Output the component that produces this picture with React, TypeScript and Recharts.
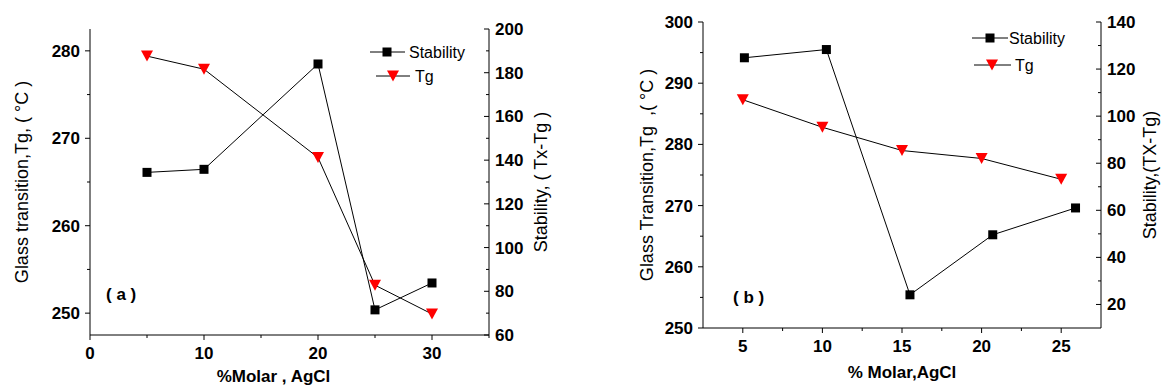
import React from 'react';
import { LineChart, Line, XAxis, YAxis, Legend } from 'recharts';

// ---------- Panel (a) data ----------
const aMolar = [5, 10, 20, 25, 30];
const aStability = [134.4, 135.8, 184.0, 71.5, 83.8];
const aTg = [279.4, 277.9, 267.8, 253.2, 249.9];

// ---------- Panel (b) data ----------
const bStabilityMolar = [5.1, 10.25, 15.5, 20.7, 25.9];
const bStability = [124.8, 128.3, 24.1, 49.6, 61.0];
const bTgMolar = [5, 10, 15, 20, 25];
const bTg = [287.3, 282.8, 279.0, 277.7, 274.3];

// ---------- ticks ----------
const aXMajor = [0, 10, 20, 30];
const aXMinor = [5, 15, 25, 35];
const aLeftMajor = [250, 260, 270, 280];
const aLeftMinor = [255, 265, 275];
const aRightMajor = [60, 80, 100, 120, 140, 160, 180, 200];
const aRightMinor = [70, 90, 110, 130, 150, 170, 190];

const bXMajor = [5, 10, 15, 20, 25];
const bXMinor = [7.5, 12.5, 17.5, 22.5];
const bLeftMajor = [250, 260, 270, 280, 290, 300];
const bLeftMinor = [255, 265, 275, 285, 295];
const bRightMajor = [20, 40, 60, 80, 100, 120, 140];
const bRightMinor = [30, 50, 70, 90, 110, 130];

const FONT = 'Arial, "Liberation Sans", sans-serif';

const toPoints = (xs: number[], ys: number[]) => xs.map((x, i) => ({ x, y: ys[i] }));

const aStabData = toPoints(aMolar, aStability);
const aTgData = toPoints(aMolar, aTg);
const bStabData = toPoints(bStabilityMolar, bStability);
const bTgData = toPoints(bTgMolar, bTg);

const sorted = (a: number[], b: number[]) => [...a, ...b].sort((p, q) => p - q);

type Side = 'left' | 'right' | 'bottom';

function makeTick(side: Side, major: number[], inward: boolean) {
  return (props: any) => {
    const { x, y, payload, index } = props;
    const v = payload.value;
    const isMajor = major.includes(v);
    const len = isMajor ? 5 : 3;
    const textStyle = { fontFamily: FONT, fontSize: 17, fontWeight: 700, fill: '#000' } as const;
    let line: React.ReactNode = null;
    let text: React.ReactNode = null;
    if (side === 'left') {
      const dir = inward ? 1 : -1;
      line = <line x1={x} x2={x + dir * len} y1={y} y2={y} stroke="#000" strokeWidth={1} />;
      if (isMajor) text = <text x={x - 10} y={y + 6} textAnchor="end" style={textStyle}>{v}</text>;
    } else if (side === 'right') {
      const dir = inward ? -1 : 1;
      line = <line x1={x} x2={x + dir * len} y1={y} y2={y} stroke="#000" strokeWidth={1} />;
      if (isMajor) text = <text x={x + 6} y={y + 6} textAnchor="start" style={textStyle}>{v}</text>;
    } else {
      const dir = inward ? -1 : 1;
      line = <line x1={x} x2={x} y1={y} y2={y + dir * len} stroke="#000" strokeWidth={1} />;
      if (isMajor) text = <text x={x} y={y + 24} textAnchor="middle" style={textStyle}>{v}</text>;
    }
    return (
      <g key={`t-${side}-${index}-${v}`}>
        {line}
        {text}
      </g>
    );
  };
}

const squareDot = (props: any) => {
  const { cx, cy, index } = props;
  return <rect key={`sq-${index}`} x={cx - 4.5} y={cy - 4.5} width={9} height={9} fill="#000" />;
};

const triDot = (props: any) => {
  const { cx, cy, index } = props;
  return (
    <path
      key={`tr-${index}`}
      d={`M${cx - 6},${cy - 5.5} L${cx + 6},${cy - 5.5} L${cx},${cy + 5.5} Z`}
      fill="#ff0000"
    />
  );
};

function LegendBox(props: { rows: { y: number; x1: number; x2: number; mx: number; tx: number; label: string; kind: 'sq' | 'tri' }[] }) {
  return (
    <svg width={130} height={56} style={{ overflow: 'visible' }}>
      {props.rows.map((r) => (
        <g key={r.label}>
          <line x1={r.x1} x2={r.x2} y1={r.y} y2={r.y} stroke="#000" strokeWidth={1} />
          {r.kind === 'sq' ? (
            <rect x={r.mx - 4.5} y={r.y - 4.5} width={9} height={9} fill="#000" />
          ) : (
            <path d={`M${r.mx - 6},${r.y - 5.5} L${r.mx + 6},${r.y - 5.5} L${r.mx},${r.y + 5.5} Z`} fill="#ff0000" />
          )}
          <text x={r.tx} y={r.y + 6} style={{ fontFamily: FONT, fontSize: 16, fill: '#000' }}>
            {r.label}
          </text>
        </g>
      ))}
    </svg>
  );
}

const titleStyle = { fontFamily: FONT, fontSize: 18, fill: '#000', textAnchor: 'middle' } as any;
const xTitleStyle = { fontFamily: FONT, fontSize: 17, fontWeight: 700, fill: '#000', textAnchor: 'middle' } as any;

export default function App() {
  return (
    <div style={{ position: 'absolute', left: 0, top: 0, width: 1161, height: 387, background: '#fff' }}>
      {/* Panel (a) */}
      <div style={{ position: 'absolute', left: 0, top: 0 }}>
        <LineChart width={580} height={387} margin={{ top: 29, right: 0, bottom: 0, left: 0 }}>
          <XAxis
            xAxisId="main"
            dataKey="x"
            type="number"
            domain={[0, 35]}
            ticks={sorted(aXMajor, aXMinor)}
            interval={0}
            height={52}
            tickSize={0}
            tickMargin={0}
            tickLine={false}
            axisLine={{ stroke: '#000', strokeWidth: 1 }}
            tick={makeTick('bottom', aXMajor, false)}
            label={{ value: '%Molar , AgCl', position: 'insideBottom', offset: 5, dx: -16, style: xTitleStyle }}
          />
          <XAxis
            xAxisId="top"
            orientation="top"
            type="number"
            domain={[0, 35]}
            height={0}
            tick={false}
            tickLine={false}
            axisLine={{ stroke: '#000', strokeWidth: 1 }}
          />
          <YAxis
            yAxisId="left"
            type="number"
            domain={[247.5, 282.5]}
            ticks={sorted(aLeftMajor, aLeftMinor)}
            interval={0}
            width={90}
            tickSize={0}
            tickMargin={0}
            tickLine={false}
            axisLine={{ stroke: '#000', strokeWidth: 1 }}
            tick={makeTick('left', aLeftMajor, false)}
            label={{ value: 'Glass transition,Tg, ( °C )', angle: -90, position: 'insideLeft', offset: 22, style: titleStyle }}
          />
          <YAxis
            yAxisId="right"
            orientation="right"
            type="number"
            domain={[60, 200]}
            ticks={sorted(aRightMajor, aRightMinor)}
            interval={0}
            width={91}
            tickSize={0}
            tickMargin={0}
            tickLine={false}
            axisLine={{ stroke: '#000', strokeWidth: 1 }}
            tick={makeTick('right', aRightMajor, true)}
            label={{ value: 'Stability, ( Tx-Tg )', angle: -90, position: 'insideRight', offset: 39, style: titleStyle }}
          />
          <Legend
            layout="horizontal"
            align="center"
            verticalAlign="middle"
            wrapperStyle={{ left: 365, top: 40, width: 130, height: 56 }}
            content={() => (
              <LegendBox
                rows={[
                  { y: 12, x1: 5, x2: 40, mx: 22, tx: 44, label: 'Stability', kind: 'sq' },
                  { y: 36, x1: 11, x2: 45, mx: 28, tx: 50, label: 'Tg', kind: 'tri' },
                ]}
              />
            )}
          />
          <Line
            xAxisId="main"
            yAxisId="right"
            data={aStabData}
            dataKey="y"
            name="Stability"
            stroke="#000"
            strokeWidth={1}
            dot={squareDot}
            activeDot={false}
            isAnimationActive={false}
          />
          <Line
            xAxisId="main"
            yAxisId="left"
            data={aTgData}
            dataKey="y"
            name="Tg"
            stroke="#000"
            strokeWidth={1}
            dot={triDot}
            activeDot={false}
            isAnimationActive={false}
          />
        </LineChart>
      </div>

      {/* Panel (b) */}
      <div style={{ position: 'absolute', left: 580, top: 0 }}>
        <LineChart width={581} height={387} margin={{ top: 22, right: 0, bottom: 0, left: 0 }}>
          <XAxis
            xAxisId="main"
            dataKey="x"
            type="number"
            domain={[2.5, 27.5]}
            ticks={sorted(bXMajor, bXMinor)}
            interval={0}
            height={59}
            tickSize={0}
            tickMargin={0}
            tickLine={false}
            axisLine={{ stroke: '#000', strokeWidth: 1 }}
            tick={makeTick('bottom', bXMajor, false)}
            label={{ value: '% Molar,AgCl', position: 'insideBottom', offset: 9, style: xTitleStyle }}
          />
          <XAxis
            xAxisId="top"
            orientation="top"
            type="number"
            domain={[2.5, 27.5]}
            height={0}
            tick={false}
            tickLine={false}
            axisLine={{ stroke: '#000', strokeWidth: 1 }}
          />
          <YAxis
            yAxisId="left"
            type="number"
            domain={[250, 300]}
            ticks={sorted(bLeftMajor, bLeftMinor)}
            interval={0}
            width={123}
            tickSize={0}
            tickMargin={0}
            tickLine={false}
            axisLine={{ stroke: '#000', strokeWidth: 1 }}
            tick={makeTick('left', bLeftMajor, false)}
            label={{ value: 'Glass Transition,Tg\u00A0\u00A0,( °C )', angle: -90, position: 'insideLeft', offset: 67, style: titleStyle }}
          />
          <YAxis
            yAxisId="right"
            orientation="right"
            type="number"
            domain={[10, 140]}
            ticks={sorted(bRightMajor, bRightMinor)}
            interval={0}
            width={60}
            tickSize={0}
            tickMargin={0}
            tickLine={false}
            axisLine={{ stroke: '#000', strokeWidth: 1 }}
            tick={makeTick('right', bRightMajor, true)}
            label={{ value: 'Stability,(TX-Tg)', angle: -90, position: 'insideRight', offset: 11, style: titleStyle }}
          />
          <Legend
            layout="horizontal"
            align="center"
            verticalAlign="middle"
            wrapperStyle={{ left: 385, top: 20, width: 130, height: 56 }}
            content={() => (
              <LegendBox
                rows={[
                  { y: 18, x1: 7, x2: 43, mx: 25, tx: 44, label: 'Stability', kind: 'sq' },
                  { y: 45, x1: 9, x2: 46, mx: 27, tx: 50, label: 'Tg', kind: 'tri' },
                ]}
              />
            )}
          />
          <Line
            xAxisId="main"
            yAxisId="right"
            data={bStabData}
            dataKey="y"
            name="Stability"
            stroke="#000"
            strokeWidth={1}
            dot={squareDot}
            activeDot={false}
            isAnimationActive={false}
          />
          <Line
            xAxisId="main"
            yAxisId="left"
            data={bTgData}
            dataKey="y"
            name="Tg"
            stroke="#000"
            strokeWidth={1}
            dot={triDot}
            activeDot={false}
            isAnimationActive={false}
          />
        </LineChart>
      </div>

      {/* panel tags */}
      <svg width={1161} height={387} style={{ position: 'absolute', left: 0, top: 0, pointerEvents: 'none' }}>
        <text x={106} y={300} style={{ fontFamily: FONT, fontSize: 17, fontWeight: 700, fill: '#000' }}>( a )</text>
        <text x={733} y={303} style={{ fontFamily: FONT, fontSize: 17, fontWeight: 700, fill: '#000' }}>( b )</text>
      </svg>
    </div>
  );
}
